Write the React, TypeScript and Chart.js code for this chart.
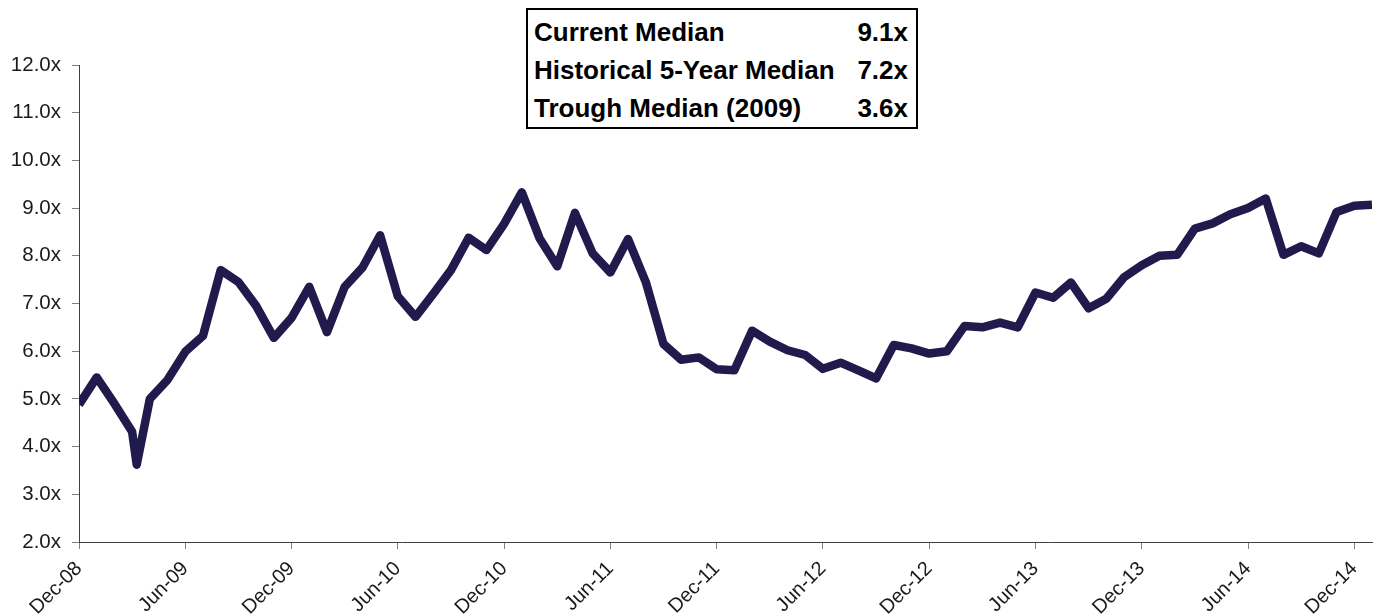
import React, { useEffect, useRef } from "react";
import { Chart, registerables } from "chart.js";

Chart.register(...registerables);

// Observation dates (month-based; one intra-month trough point in Mar-09)
const obsDates: string[] = [
  "2008-12-01", "2009-01-01", "2009-02-01", "2009-03-01", "2009-03-09", "2009-04-01",
  "2009-05-01", "2009-06-01", "2009-07-01", "2009-08-01", "2009-09-01", "2009-10-01",
  "2009-11-01", "2009-12-01", "2010-01-01", "2010-02-01", "2010-03-01", "2010-04-01",
  "2010-05-01", "2010-06-01", "2010-07-01", "2010-08-01", "2010-09-01", "2010-10-01",
  "2010-11-01", "2010-12-01", "2011-01-01", "2011-02-01", "2011-03-01", "2011-04-01",
  "2011-05-01", "2011-06-01", "2011-07-01", "2011-08-01", "2011-09-01", "2011-10-01",
  "2011-11-01", "2011-12-01", "2012-01-01", "2012-02-01", "2012-03-01", "2012-04-01",
  "2012-05-01", "2012-06-01", "2012-07-01", "2012-08-01", "2012-09-01", "2012-10-01",
  "2012-11-01", "2012-12-01", "2013-01-01", "2013-02-01", "2013-03-01", "2013-04-01",
  "2013-05-01", "2013-06-01", "2013-07-01", "2013-08-01", "2013-09-01", "2013-10-01",
  "2013-11-01", "2013-12-01", "2014-01-01", "2014-02-01", "2014-03-01", "2014-04-01",
  "2014-05-01", "2014-06-01", "2014-07-01", "2014-08-01", "2014-09-01", "2014-10-01",
  "2014-11-01", "2014-12-01", "2015-01-01",
];

// EV / EBITDA median multiple
const medianMultiple: number[] = [
  4.88, 5.45, 4.9, 4.31, 3.62, 5.0,
  5.4, 5.99, 6.32, 7.7, 7.45, 6.95,
  6.28, 6.7, 7.35, 6.4, 7.35, 7.75,
  8.43, 7.15, 6.72, 7.2, 7.7, 8.38,
  8.12, 8.67, 9.33, 8.37, 7.78, 8.9,
  8.05, 7.65, 8.35, 7.45, 6.15, 5.82,
  5.87, 5.62, 5.6, 6.43, 6.2, 6.02,
  5.92, 5.63, 5.76, 5.6, 5.43, 6.13,
  6.06, 5.95, 6.0, 6.53, 6.5, 6.6,
  6.5, 7.23, 7.12, 7.44, 6.9, 7.1,
  7.55, 7.8, 8.0, 8.02, 8.57, 8.68,
  8.87, 9.0, 9.2, 8.02, 8.2, 8.05,
  8.92, 9.05, 9.07,
];

const xTickLabels: string[] = [
  "Dec-08", "Jun-09", "Dec-09", "Jun-10", "Dec-10", "Jun-11", "Dec-11",
  "Jun-12", "Dec-12", "Jun-13", "Dec-13", "Jun-14", "Dec-14",
];

const summaryLabels: string[] = ["Current Median", "Historical 5-Year Median", "Trough Median (2009)"];
const summaryValues: string[] = ["9.1x", "7.2x", "3.6x"];

const FONT = "'Liberation Sans', Arial, Helvetica, sans-serif";

function monthOffset(d: string): number {
  const [y, m, day] = d.split("-").map(Number);
  const dim = new Date(y, m, 0).getDate();
  return (y - 2008) * 12 + (m - 12) + (day - 1) / dim;
}

export default function App() {
  const canvasRef = useRef<HTMLCanvasElement | null>(null);

  useEffect(() => {
    if (!canvasRef.current) return;
    const points = obsDates.map((d, i) => ({ x: monthOffset(d), y: medianMultiple[i] }));
    const chart = new Chart(canvasRef.current, {
      type: "line",
      data: {
        datasets: [
          {
            data: points,
            borderColor: "#211b4d",
            borderWidth: 8.5,
            borderJoinStyle: "round",
            borderCapStyle: "butt",
            pointRadius: 0,
            tension: 0,
            fill: false,
          },
        ],
      },
      options: {
        animation: false,
        responsive: false,
        devicePixelRatio: 1,
        layout: { padding: { top: 65, right: 5, left: 0, bottom: 0 } },
        plugins: { legend: { display: false }, tooltip: { enabled: false } },
        scales: {
          x: {
            type: "linear",
            min: 0,
            max: monthOffset(obsDates[obsDates.length - 1]),
            afterBuildTicks: (axis: any) => {
              axis.ticks = xTickLabels.map((_, i) => ({ value: i * 6 }));
            },
            afterFit: (axis: any) => {
              axis.height = 74;
              axis.paddingRight = 0;
              axis.paddingLeft = 0;
            },
            ticks: {
              autoSkip: false,
              minRotation: 45,
              maxRotation: 45,
              padding: 8,
              color: "#1a1a1a",
              font: { family: FONT, size: 20 },
              callback: (_v: any, i: number) => xTickLabels[i],
            },
            grid: { drawOnChartArea: false, drawTicks: true, tickLength: 7, color: "#7f7f7f" },
            border: { display: true, color: "#404040", width: 1 },
          },
          y: {
            min: 2,
            max: 12,
            afterFit: (axis: any) => {
              axis.width = 79;
            },
            ticks: {
              stepSize: 1,
              padding: 11,
              color: "#1a1a1a",
              font: { family: FONT, size: 20.5 },
              callback: (v: any) => Number(v).toFixed(1) + "x",
            },
            grid: { drawOnChartArea: false, drawTicks: true, tickLength: 7, color: "#7f7f7f" },
            border: { display: true, color: "#404040", width: 1 },
          },
        },
      },
    });
    return () => chart.destroy();
  }, []);

  return (
    <div style={{ position: "absolute", left: 0, top: 0, width: 1377, height: 616, background: "#fff" }}>
      <canvas ref={canvasRef} width={1377} height={616} style={{ position: "absolute", left: 0, top: 0 }} />
      <div
        style={{
          position: "absolute",
          left: 526,
          top: 8,
          width: 392,
          boxSizing: "border-box",
          border: "2.5px solid #000",
          padding: "3px 8px 0 6px",
          fontFamily: FONT,
          fontWeight: "bold",
          fontSize: 26,
          lineHeight: "38px",
          color: "#000",
          background: "#fff",
        }}
      >
        {summaryLabels.map((lab, i) => (
          <div key={lab} style={{ display: "flex", justifyContent: "space-between", whiteSpace: "nowrap" }}>
            <span>{lab}</span>
            <span>{summaryValues[i]}</span>
          </div>
        ))}
      </div>
    </div>
  );
}
